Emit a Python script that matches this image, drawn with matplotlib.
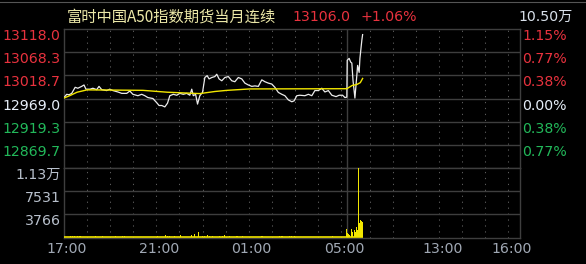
import matplotlib
matplotlib.use("Agg")
import matplotlib.pyplot as plt
import matplotlib.transforms as mtransforms
from matplotlib.lines import Line2D

# Datos (A50, sesión nocturna + mañana)
prev_close = 12969.0
max_dev = 149.0
vol_max = 11297
info_value = "10.50万"
title = "富时中国A50指数期货当月连续"

price_times = ["17:00", "17:07", "17:13", "17:20", "17:29", "17:36", "17:46", "17:52", "17:57", "18:08",
               "18:15", "18:25", "18:31", "18:38", "18:51", "18:59", "19:07", "19:20", "19:30", "19:43",
               "19:51", "19:59", "20:12", "20:22", "20:30", "20:38", "20:51", "21:01", "21:07", "21:14",
               "21:22", "21:29", "21:35", "21:44", "21:53", "22:01", "22:10", "22:19", "22:27", "22:32",
               "22:36", "22:42", "22:47", "22:53", "23:00", "23:06", "23:12", "23:17", "23:24", "23:32",
               "23:37", "23:43", "23:50", "23:58", "00:07", "00:16", "00:24", "00:33", "00:42", "00:50",
               "00:59", "01:08", "01:16", "01:25", "01:34", "01:42", "01:51", "02:00", "02:08", "02:17",
               "02:26", "02:34", "02:43", "02:52", "02:58", "03:05", "03:13", "03:26", "03:35", "03:44",
               "03:52", "04:01", "04:10", "04:18", "04:27", "04:36", "04:47", "04:55", "05:04", "05:10",
               "05:15",
               "09:01", "09:06", "09:10", "09:13", "09:16", "09:21", "09:26", "09:28", "09:32", "09:34",
               "09:39", "09:41"]
prices = [12971, 12978, 12977, 12980, 12993, 12991, 12995, 12998, 12989, 12989,
          12991, 12988, 12995, 12988, 12986, 12989, 12986, 12983, 12980, 12980,
          12985, 12978, 12975, 12978, 12975, 12971, 12969, 12960, 12954, 12954,
          12951, 12959, 12975, 12978, 12976, 12980, 12978, 12980, 12976, 12989,
          12975, 12978, 12957, 12975, 12982, 13014, 13018, 13011, 13014, 13016,
          13021, 13011, 13007, 13014, 13016, 13007, 13005, 13014, 13011, 13002,
          12998, 12995, 12996, 12995, 13009, 13005, 13002, 13000, 12993, 12982,
          12978, 12975, 12966, 12962, 12964, 12975, 12976, 12975, 12978, 12975,
          12986, 12986, 12991, 12983, 12986, 12976, 12973, 12976, 12976, 12971,
          12972,
          13051, 13055, 13047, 13045, 13008, 12970, 13019, 13040, 13025, 13055,
          13094, 13106.0]

avg_times = ["17:00", "17:16", "17:34", "18:00", "20:25", "21:28", "22:53", "23:32",
             "00:04", "01:03", "05:15", "09:03", "09:14", "09:26", "09:35", "09:41"]
avg_prices = [12970, 12975.5, 12982.5, 12987.5, 12986.5, 12982.5, 12979.5, 12984,
              12986.5, 12989.5, 12990, 12991.5, 12997, 12999, 13003, 13012]

vol_times = ["17:16", "17:21", "17:26", "17:34", "17:39", "17:44", "18:21", "18:39", "19:13", "19:33",
             "19:36", "21:02", "21:25", "21:30", "21:35", "21:48", "22:03", "22:32", "22:40", "22:49",
             "22:59", "23:04", "23:12", "23:19", "23:27", "23:45", "23:53", "23:58", "00:11", "00:27",
             "00:32", "00:43", "01:32", "01:37", "02:19", "02:24", "02:29", "02:47", "02:52", "02:58",
             "04:39",
             "09:00", "09:02", "09:05", "09:08", "09:13", "09:15", "09:19", "09:22", "09:26", "09:28",
             "09:30", "09:32", "09:35", "09:38", "09:40"]
volumes = [200, 200, 200, 200, 200, 200, 200, 200, 200, 200,
           200, 200, 370, 250, 250, 200, 370, 370, 450, 900,
           250, 250, 300, 200, 200, 250, 250, 370, 200, 200,
           200, 200, 200, 200, 200, 200, 200, 200, 200, 200,
           200,
           1350, 650, 540, 380, 1290, 920, 1180, 920, 1720, 1180,
           11297, 2260, 2800, 2690, 2530]

tick_labels = ["17:00", "21:00", "01:00", "05:00", "13:00", "16:00"]


# Eje de tiempo: sesión 17:00-05:15 seguida de 09:00-16:30
def to_idx(hhmm):
    h, m = map(int, hhmm.split(":"))
    mins = h * 60 + m
    if h >= 17:
        return mins - 17 * 60
    if h < 9:
        return mins + 7 * 60
    return 735 + (mins - 9 * 60)


t_end = 735 + 450

# Colores
bg = "#000000"
grid_c = "#3e3e3e"
dot_c = "#5a5a5a"
red = "#e8323e"
green = "#22b85a"
white = "#e6eef8"
vol_lbl = "#b8c0cc"
time_lbl = "#a0a8b4"
yellow = "#f2e600"

plt.rcParams["font.family"] = ["DejaVu Sans", "Noto Sans CJK SC"]

fig = plt.figure(figsize=(5.86, 2.64), dpi=100, facecolor=bg)
W, H = 586, 264
L, R, T, M, B = 64, 520, 29, 168, 238
ax = fig.add_axes([L / W, (H - M) / H, (R - L) / W, (M - T) / H], facecolor=bg)
axv = fig.add_axes([L / W, (H - B) / H, (R - L) / W, (B - M) / H], facecolor=bg)

# línea gris superior
fig.add_artist(Line2D([0, 1], [1 - 1.5 / H] * 2, color="#555555", lw=0.8))

levels = [prev_close + max_dev * k / 3 for k in [3, 2, 1, 0, -1, -2]]

for a in (ax, axv):
    a.set_xlim(0, t_end)
    a.set_xticks([])
    a.set_yticks([])
    for s in a.spines.values():
        s.set_color(grid_c)
        s.set_linewidth(1)
    # líneas verticales punteadas por hora
    for k in list(range(60, 735, 60)) + list(range(735 + 60, t_end, 60)):
        a.axvline(k, color=dot_c, lw=0.75, dashes=(1.2, 4.5), zorder=1)
    a.axvline(735, color=grid_c, lw=1, zorder=1)

ax.set_ylim(prev_close - max_dev, prev_close + max_dev)
axv.set_ylim(-130, vol_max)

for lv in levels[1:]:
    ax.axhline(lv, color=grid_c, lw=1, zorder=1)
for k in [1, 2]:
    axv.axhline(vol_max * k / 3, color=grid_c, lw=1, zorder=1)

# precio y precio medio
px = [to_idx(t) for t in price_times]
ax.plot(px, prices, color="#ececec", lw=0.9, zorder=3)
ax.plot([to_idx(t) for t in avg_times], avg_prices, color=yellow, lw=1.0, zorder=4)

# volumen
axv.bar([to_idx(t) for t in vol_times], volumes, width=2.6, color=yellow, lw=0, zorder=3)
axv.plot([0, px[-1]], [0, 0], color=yellow, lw=1.2, zorder=3, solid_capstyle="butt")

# etiquetas eje izquierdo/derecho
fs = 10.2
ltrans = mtransforms.blended_transform_factory(ax.transAxes, ax.transData)
for lv in levels:
    d = lv - prev_close
    c = red if d > 0.01 else (green if d < -0.01 else white)
    ax.text(-0.007, lv, f"{lv:.1f}", color=c, fontsize=fs, ha="right", va="top", transform=ltrans)
    ax.text(1.005, lv, f"{abs(d) / prev_close * 100:.2f}%", color=c, fontsize=fs,
            ha="left", va="top", transform=ltrans)

vtrans = mtransforms.blended_transform_factory(axv.transAxes, axv.transData)
for k in [3, 2, 1]:
    v = vol_max * k / 3
    lbl = f"{v / 10000:.2f}万" if v >= 10000 else f"{v:.0f}"
    axv.text(-0.007, v, lbl, color=vol_lbl, fontsize=fs, ha="right", va="top", transform=vtrans)

# etiquetas de tiempo
ttrans = mtransforms.blended_transform_factory(axv.transData, axv.transAxes) + \
    mtransforms.ScaledTranslation(3 / 100, 0, fig.dpi_scale_trans)
for lbl in tick_labels:
    axv.text(to_idx(lbl), -0.16, lbl, color=time_lbl, fontsize=fs, ha="center", va="center",
             transform=ttrans)

# cabecera
last = prices[-1]
pct = (last - prev_close) / prev_close * 100
ty = 1 - 17 / H
fig.text(67 / W, ty, title, color="#ece8a8", fontsize=11, ha="left", va="center",
         family=["Noto Sans CJK SC", "DejaVu Sans"])
fig.text(292 / W, ty, f"{last:.1f}", color=red, fontsize=fs, ha="left", va="center")
fig.text(360 / W, ty, f"{pct:+.2f}%", color=red, fontsize=fs, ha="left", va="center")
fig.text(573 / W, ty, info_value, color="#d8e0ea", fontsize=fs, ha="right", va="center")

fig.savefig("out.png", dpi=100, facecolor=bg)
